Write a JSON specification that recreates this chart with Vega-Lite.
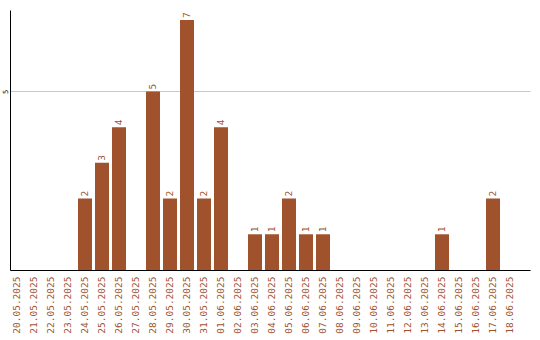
{
  "$schema": "https://vega.github.io/schema/vega-lite/v6.json",
  "width": 520,
  "height": 260,
  "autosize": "none",
  "padding": {"left": 10, "top": 10, "right": 10, "bottom": 70},
  "config": {"view": {"stroke": null}},
  "data": {"values": [
    {"date": "24.05.2025", "count": 2},
    {"date": "25.05.2025", "count": 3},
    {"date": "26.05.2025", "count": 4},
    {"date": "28.05.2025", "count": 5},
    {"date": "29.05.2025", "count": 2},
    {"date": "30.05.2025", "count": 7},
    {"date": "31.05.2025", "count": 2},
    {"date": "01.06.2025", "count": 4},
    {"date": "03.06.2025", "count": 1},
    {"date": "04.06.2025", "count": 1},
    {"date": "05.06.2025", "count": 2},
    {"date": "06.06.2025", "count": 1},
    {"date": "07.06.2025", "count": 1},
    {"date": "14.06.2025", "count": 1},
    {"date": "17.06.2025", "count": 2}
  ]},
  "encoding": {
    "x": {
      "field": "date", "type": "ordinal", "sort": null,
      "scale": {
        "type": "band",
        "domain": ["20.05.2025", "21.05.2025", "22.05.2025", "23.05.2025", "24.05.2025", "25.05.2025", "26.05.2025", "27.05.2025", "28.05.2025", "29.05.2025", "30.05.2025", "31.05.2025", "01.06.2025", "02.06.2025", "03.06.2025", "04.06.2025", "05.06.2025", "06.06.2025", "07.06.2025", "08.06.2025", "09.06.2025", "10.06.2025", "11.06.2025", "12.06.2025", "13.06.2025", "14.06.2025", "15.06.2025", "16.06.2025", "17.06.2025", "18.06.2025"],
        "paddingInner": 0.1765,
        "paddingOuter": 0.382,
        "align": 0
      },
      "axis": {
        "title": null,
        "labelAngle": -90,
        "labelAlign": "right",
        "labelBaseline": "middle",
        "labelPadding": 6,
        "labelColor": "#a0522d",
        "labelFont": "DejaVu Sans Mono",
        "labelFontSize": 9.5,
        "labelOverlap": false,
        "ticks": false,
        "grid": false,
        "domainColor": "#000000",
        "domainWidth": 1
      }
    },
    "y": {
      "field": "count", "type": "quantitative",
      "scale": {"domain": [0, 7.28], "nice": false},
      "axis": {
        "title": null,
        "values": [5],
        "ticks": false,
        "labelAngle": -90,
        "labelAlign": "center",
        "labelBaseline": "middle",
        "labelPadding": 5,
        "labelFont": "DejaVu Sans Mono",
        "labelFontSize": 7,
        "labelColor": "#000000",
        "grid": true,
        "gridColor": "#c8c8c8",
        "domainColor": "#000000",
        "domainWidth": 1
      }
    }
  },
  "layer": [
    {"mark": {"type": "bar", "color": "#a0522d"}},
    {"mark": {"type": "text", "color": "#a0522d", "angle": 270, "align": "left", "baseline": "middle", "dx": 2, "font": "DejaVu Sans Mono", "fontSize": 9.5},
     "encoding": {"text": {"field": "count", "type": "quantitative"}}}
  ]
}
